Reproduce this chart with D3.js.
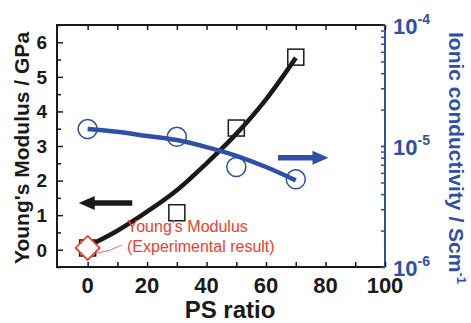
<!DOCTYPE html>
<html>
<head>
<meta charset="utf-8">
<script src="https://cdn.jsdelivr.net/npm/d3@7/dist/d3.min.js"></script>
<style>
  body { margin: 0; background: #fff; }
  text { font-family: "Liberation Sans", Arial, sans-serif; font-weight: bold; }
</style>
</head>
<body>
<svg id="chart"></svg>
<script>
// measured points
const psRatio = [0, 30, 50, 70];
const modulus = [0.05, 1.07, 3.52, 5.57];
const conductivity = [1.38e-5, 1.19e-5, 6.7e-6, 5.3e-6];
// experimental point (red diamond)
const expRatio = [0];
const expModulus = [0.05];
// fitted curves
const fitRatio = [0, 10, 20, 30, 40, 50, 60, 70];
const modulusFit = [0.1, 0.55, 1.1, 1.72, 2.5, 3.35, 4.35, 5.55];
const conductivityFit = [1.38e-5, 1.31e-5, 1.21e-5, 1.12e-5, 9.8e-6, 8.3e-6, 6.7e-6, 5.2e-6];
// ticks
const xTicks = [0, 20, 40, 60, 80, 100];
const yTicks = [0, 1, 2, 3, 4, 5, 6];
const logTicks = [1e-6, 1e-5, 1e-4];
const logExp = ['-6', '-5', '-4'];

const width = 471, height = 323;
const margin = { top: 25, right: 86, bottom: 56, left: 57 };
const black = '#1a1a1a', blue = '#2f50a8', red = '#f0402a';

const svg = d3.select('#chart').attr('width', width).attr('height', height);

const x = d3.scaleLinear().domain([-10.3, 100]).range([margin.left, width - margin.right]);
const y = d3.scaleLinear().domain([-0.5, 6.5]).range([height - margin.bottom, margin.top]);
const yLog = d3.scaleLog().domain([1e-6, 1e-4]).range([height - margin.bottom, margin.top]);

// frame
svg.append('path')
  .attr('d', `M${x(100)},${margin.top}H${margin.left}V${height - margin.bottom}H${x(100)}`)
  .attr('fill', 'none').attr('stroke', black).attr('stroke-width', 2);
svg.append('line')
  .attr('x1', x(100)).attr('x2', x(100))
  .attr('y1', margin.top).attr('y2', height - margin.bottom)
  .attr('stroke', blue).attr('stroke-width', 2);

// bottom / top ticks (inside)
const xMinor = d3.range(0, 101, 10);
const xAxisB = d3.axisBottom(x).tickValues(xMinor).tickSize(-5).tickFormat('');
const xAxisT = d3.axisTop(x).tickValues(xMinor).tickSize(-5).tickFormat('');
svg.append('g').attr('transform', `translate(0,${height - margin.bottom})`).call(xAxisB)
  .call(g => g.select('.domain').remove())
  .call(g => g.selectAll('line').attr('stroke', black).attr('stroke-width', 1.5));
svg.append('g').attr('transform', `translate(0,${margin.top})`).call(xAxisT)
  .call(g => g.select('.domain').remove())
  .call(g => g.selectAll('line').attr('stroke', black).attr('stroke-width', 1.5));

svg.append('g').selectAll('text').data(xTicks).join('text')
  .attr('x', d => x(d)).attr('y', 293)
  .attr('text-anchor', 'middle').attr('font-size', 22).attr('fill', black)
  .text(d => d);

// left ticks
const yMinor = d3.range(-0.5, 6.51, 0.5);
svg.append('g').attr('transform', `translate(${margin.left},0)`)
  .call(d3.axisLeft(y).tickValues(yMinor).tickSize(0).tickFormat(''))
  .call(g => g.select('.domain').remove())
  .call(g => g.selectAll('.tick line')
    .attr('x2', d => Number.isInteger(d) ? 6 : 4)
    .attr('stroke', black).attr('stroke-width', 1.5));
svg.append('g').selectAll('text').data(yTicks).join('text')
  .attr('x', 47).attr('y', d => y(d)).attr('dy', '0.36em')
  .attr('text-anchor', 'end').attr('font-size', 19).attr('fill', black)
  .text(d => d);

// right log ticks
const logMinor = [];
[1e-6, 1e-5].forEach(dec => { for (let k = 1; k <= 10; k++) logMinor.push(dec * k); });
svg.append('g').attr('transform', `translate(${x(100)},0)`)
  .call(d3.axisRight(yLog).tickValues(logMinor).tickSize(0).tickFormat(''))
  .call(g => g.select('.domain').remove())
  .call(g => g.selectAll('.tick line').attr('x2', -4).attr('stroke', blue).attr('stroke-width', 1.5));
const logLabels = svg.append('g').selectAll('text').data(logTicks).join('text')
  .attr('x', 393).attr('y', d => yLog(d) + 9)
  .attr('font-size', 22).attr('fill', blue);
logLabels.append('tspan').text('10');
logLabels.append('tspan').attr('dy', -10).attr('font-size', 14).text((d, i) => logExp[i]);

// axis titles
svg.append('text')
  .attr('transform', `translate(29,148) rotate(-90)`)
  .attr('text-anchor', 'middle').attr('font-size', 21).attr('fill', black)
  .text("Young's Modulus / GPa");
svg.append('text')
  .attr('x', 230).attr('y', 318)
  .attr('text-anchor', 'middle').attr('font-size', 24).attr('fill', black)
  .text('PS ratio');
const rTitle = svg.append('text')
  .attr('transform', `translate(449,158) rotate(90)`)
  .attr('text-anchor', 'middle').attr('font-size', 21).attr('fill', blue);
rTitle.append('tspan').text('Ionic conductivity / Scm');
rTitle.append('tspan').attr('dy', -8).attr('font-size', 13).text('-1');

// fitted curves
const modLine = d3.line().x((d, i) => x(fitRatio[i])).y(d => y(d)).curve(d3.curveMonotoneX);
const condLine = d3.line().x((d, i) => x(fitRatio[i])).y(d => yLog(d)).curve(d3.curveMonotoneX);

// markers
svg.append('g').selectAll('rect').data(modulus).join('rect')
  .attr('x', (d, i) => x(psRatio[i]) - 8).attr('y', d => y(d) - 8)
  .attr('width', 16).attr('height', 16)
  .attr('fill', 'none').attr('stroke', black).attr('stroke-width', 1.5);
svg.append('g').selectAll('circle').data(conductivity).join('circle')
  .attr('cx', (d, i) => x(psRatio[i])).attr('cy', d => yLog(d)).attr('r', 9.5)
  .attr('fill', 'none').attr('stroke', blue).attr('stroke-width', 1.5);

svg.append('path').attr('d', modLine(modulusFit))
  .attr('fill', 'none').attr('stroke', black).attr('stroke-width', 4.5);
svg.append('path').attr('d', condLine(conductivityFit))
  .attr('fill', 'none').attr('stroke', blue).attr('stroke-width', 4.5);

// experimental diamond
svg.append('g').selectAll('path').data(expModulus).join('path')
  .attr('transform', (d, i) => `translate(${x(expRatio[i])},${y(d)})`)
  .attr('d', 'M0,-12L12,0L0,12L-12,0Z')
  .attr('fill', '#fff').attr('stroke', red).attr('stroke-width', 1.8);

// arrows
function arrow(x0, x1, yy, color) {
  const dir = Math.sign(x1 - x0);
  const headLen = 16, headHalf = 7;
  svg.append('line')
    .attr('x1', x0).attr('x2', x1 - dir * headLen + dir * 2)
    .attr('y1', yy).attr('y2', yy)
    .attr('stroke', color).attr('stroke-width', 5.5);
  svg.append('path')
    .attr('d', `M${x1},${yy}L${x1 - dir * headLen},${yy - headHalf}L${x1 - dir * headLen},${yy + headHalf}Z`)
    .attr('fill', color);
}
arrow(x(15), x(-3), y(1.35), black);
arrow(x(64), x(81), yLog(8e-6), blue);

// annotation
svg.append('path')
  .attr('d', `M${x(0) + 9},${y(0.05) + 5}Q${x(0) + 22},${y(0.05) + 4} ${x(0) + 34},${y(0.05) - 3}`)
  .attr('fill', 'none').attr('stroke', red).attr('stroke-width', 0.8);
const note = svg.append('text').attr('font-size', 16).attr('fill', red).style('font-weight', 'normal');
note.append('tspan').attr('x', 127).attr('y', 232).text("Young's Modulus");
note.append('tspan').attr('x', 127).attr('y', 252).text('(Experimental result)');
</script>
</body>
</html>
